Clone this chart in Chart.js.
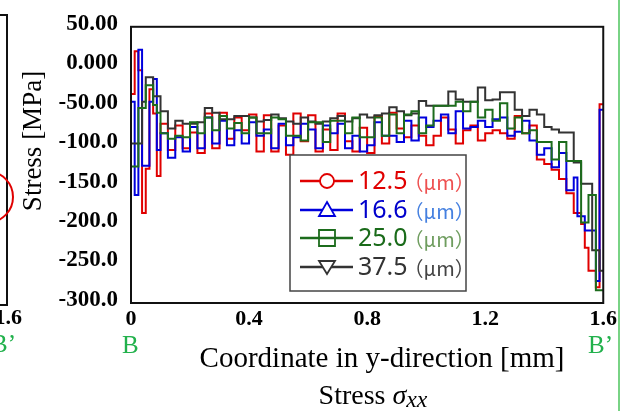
<!DOCTYPE html>
<html>
<head>
<meta charset="utf-8">
<script src="https://cdn.jsdelivr.net/npm/chart.js@4.4.1/dist/chart.umd.min.js"></script>
<style>
  html, body { margin: 0; padding: 0; background: #fff; }
  #wrap { position: relative; width: 620px; height: 411px; overflow: hidden; }
  #c { position: absolute; left: 0; top: 0; }
  .t { position: absolute; white-space: nowrap; font-family: 'Liberation Serif', 'Times New Roman', serif; line-height: 1; }
  .green { color: #22b14c; font-size: 25px; }
</style>
</head>
<body>
<div id="wrap">
  <canvas id="c" width="620" height="411"></canvas>

  <!-- fragment of the neighbouring panel on the left -->
  <svg width="620" height="411" style="position:absolute;left:0;top:0;pointer-events:none">
    <polyline points="0,15 7,15 7,305 0,305" fill="none" stroke="#111" stroke-width="2"/>
    <path d="M -10 172 A 24 25 0 0 1 -10 222" fill="none" stroke="#e00000" stroke-width="2" transform="translate(-1,0)"/>
    <line x1="619" y1="0" x2="619" y2="411" stroke="#4cc45c" stroke-width="1.5"/>
  </svg>
  <div class="t" style="right:598px;top:306px;font-size:22px;font-weight:bold">1.6</div>
  <div class="t green" style="left:-9px;top:331px">B’</div>

  <div class="t" style="left:32px;top:141px;font-size:27px;transform:translate(-50%,-50%) rotate(-90deg)">Stress [MPa]</div>
  <div class="t green" style="left:122px;top:332px">B</div>
  <div class="t green" style="left:588px;top:332px">B’</div>
  <div class="t" style="left:382px;top:343px;font-size:29px;transform:translateX(-50%)">Coordinate in y-direction [mm]</div>
  <div class="t" style="left:373px;top:381px;font-size:28px;transform:translateX(-50%)">Stress <i>σ<span style="font-size:0.85em;position:relative;top:3px">xx</span></i></div>
</div>
<script>
// y-coordinate [mm] of each step start
const X = [0, 0.0125, 0.025, 0.0375, 0.05, 0.0625, 0.075, 0.0875, 0.1,
  0.125, 0.15, 0.175, 0.2, 0.225, 0.25, 0.275, 0.3, 0.325, 0.35, 0.375,
  0.4, 0.425, 0.45, 0.475, 0.5, 0.525, 0.55, 0.575, 0.6, 0.625, 0.65, 0.675,
  0.7, 0.725, 0.75, 0.775, 0.8, 0.825, 0.85, 0.875, 0.9, 0.925, 0.95, 0.975,
  1.0, 1.025, 1.05, 1.075, 1.1, 1.125, 1.15, 1.175, 1.2, 1.225, 1.25, 1.275,
  1.3, 1.325, 1.35, 1.375, 1.4, 1.425, 1.45, 1.475, 1.5,
  1.5125, 1.525, 1.5375, 1.55, 1.5625, 1.575, 1.5875, 1.6];

// stress [MPa] per mesh size
const S_12_5 = [-35, 19, -5, -186, -130, -29, -60, -139, -73,
  -106, -75, -104, -84, -110, -60, -104, -59, -92, -65, -81,
  -61, -108, -62, -108, -75, -112, -60, -95, -62, -108, -80, -106,
  -60, -95, -108, -78, -110, -63, -98, -59, -79, -90, -75, -88,
  -100, -88, -65, -80, -98, -81, -75, -94, -85, -81, -85, -92,
  -63, -85, -75, -118, -124, -131, -143, -161, -186,
  -186, -200, -230, -259, -259, -280, -48, -48];

const S_16_6 = [-45, -163, 21, -126, -126, -45, -16, -106, -85,
  -116, -90, -108, -77, -104, -65, -98, -69, -100, -81, -98,
  -71, -88, -80, -104, -73, -100, -90, -73, -80, -104, -75, -85,
  -73, -104, -88, -108, -100, -71, -88, -88, -96, -69, -94, -65,
  -77, -69, -61, -85, -57, -79, -77, -69, -77, -67, -65, -88,
  -83, -69, -94, -112, -104, -128, -110, -157, -141,
  -190, -190, -208, -208, -208, -272, -55, -55];

const S_25_0 = [-127, -127, -53, -53, -24, -24, -49, -59, -85,
  -92, -88, -90, -71, -85, -65, -81, -63, -79, -72, -85,
  -65, -85, -85, -65, -67, -88, -88, -94, -71, -71, -96, -69,
  -69, -85, -65, -90, -90, -65, -88, -61, -85, -61, -57, -85,
  -75, -50, -50, -50, -45, -57, -45, -65, -55, -69, -47, -79,
  -65, -85, -81, -96, -96, -118, -96, -120, -120,
  -120, -198, -198, -163, -163, -284, -284, -284];

const S_37_5 = [-98, -98, -98, -45, -14, -14, -38, -38, -57,
  -79, -69, -73, -73, -71, -53, -59, -67, -67, -63, -63,
  -65, -70, -68, -61, -66, -70, -73, -65, -70, -73, -70, -66,
  -63, -70, -66, -61, -65, -62, -60, -52, -57, -62, -60, -44,
  -50, -50, -50, -32, -42, -45, -45, -27, -43, -42, -33, -33,
  -55, -63, -55, -61, -77, -80, -84, -84, -122,
  -122, -149, -149, -149, -233, -233, -259, -259];

const SERIES_LABELS = ['12.5', '16.6', '25.0', '37.5'];
const UNIT = '（μm）';

const X_TICKS = [0, 0.4, 0.8, 1.2, 1.6];
const X_TICK_LABELS = ['0', '0.4', '0.8', '1.2', '1.6'];
const Y_TICKS = [50, 0, -50, -100, -150, -200, -250, -300];
const Y_TICK_LABELS = ['50.00', '0.000', '-50.00', '-100.0', '-150.0', '-200.0', '-250.0', '-300.0'];

const LINE_COLORS = ['#e00000', '#0000dd', '#1c6c1c', '#333333'];
const TEXT_COLORS = ['#e00000', '#0000cc', '#1a6b1a', '#333333'];
const UNIT_COLORS = ['#ee5050', '#4580e0', '#6f9d5f', '#444444'];
const MARKERS = ['circle', 'triangle', 'square', 'triangleDown'];

const serif = "'Liberation Serif', 'Times New Roman', serif";

function pickLabel(values, labels, v) {
    const i = values.findIndex(t => Math.abs(t - v) < 1e-6);
    return i >= 0 ? labels[i] : '';
}

function drawMarker(ctx, kind, x, y, color) {
    ctx.save();
    ctx.strokeStyle = color;
    ctx.lineWidth = 1.8;
    ctx.fillStyle = '#fff';
    ctx.beginPath();
    if (kind === 'circle') {
        ctx.arc(x, y, 7, 0, Math.PI * 2);
        ctx.fill();
    } else if (kind === 'triangle') {
        ctx.moveTo(x, y - 8); ctx.lineTo(x + 8, y + 6); ctx.lineTo(x - 8, y + 6); ctx.closePath();
        ctx.fill();
    } else if (kind === 'triangleDown') {
        ctx.moveTo(x - 8, y - 6); ctx.lineTo(x + 8, y - 6); ctx.lineTo(x, y + 7); ctx.closePath();
        ctx.fill();
    } else {
        ctx.rect(x - 8, y - 8, 16, 16);
    }
    ctx.stroke();
    ctx.restore();
}

// frame round the plot area and the boxed legend
const framePlugin = {
    id: 'frameAndLegend',
    afterDatasetsDraw(chart) {
        const { ctx, chartArea: a } = chart;
        ctx.save();
        ctx.strokeStyle = '#111';
        ctx.lineWidth = 2;
        ctx.strokeRect(a.left, a.top, a.right - a.left, a.bottom - a.top);

        const bx = 290, by = 155, bw = 176, bh = 136;
        ctx.fillStyle = '#fff';
        ctx.fillRect(bx, by, bw, bh);
        ctx.strokeStyle = '#444';
        ctx.lineWidth = 1.5;
        ctx.strokeRect(bx, by, bw, bh);

        const rows = [181, 210, 238, 267];
        chart.data.datasets.forEach((ds, i) => {
            const y = rows[i];
            ctx.strokeStyle = LINE_COLORS[i];
            ctx.lineWidth = 2.5;
            ctx.beginPath();
            ctx.moveTo(300, y); ctx.lineTo(353, y);
            ctx.stroke();
            drawMarker(ctx, MARKERS[i], 327, y, LINE_COLORS[i]);

            ctx.textBaseline = 'middle';
            ctx.textAlign = 'left';
            ctx.font = "25px 'Noto Sans', 'Liberation Sans', sans-serif";
            ctx.fillStyle = TEXT_COLORS[i];
            ctx.fillText(ds.label, 358, y + 1);
            const w = ctx.measureText(ds.label).width;
            ctx.font = "20px 'Noto Sans CJK JP', sans-serif";
            ctx.fillStyle = UNIT_COLORS[i];
            ctx.fillText(UNIT, 358 + w - 4, y + 1);
        });
        ctx.restore();
    }
};

const series = [S_12_5, S_16_6, S_25_0, S_37_5];
const drawOrder = [4, 3, 1, 2];

new Chart(document.getElementById('c'), {
    type: 'line',
    data: {
        datasets: series.map((s, i) => ({
            label: SERIES_LABELS[i],
            data: X.map((x, k) => ({ x, y: s[k] })),
            stepped: true,
            borderColor: LINE_COLORS[i],
            borderWidth: 2,
            pointRadius: 0,
            fill: false,
            order: drawOrder[i]
        }))
    },
    options: {
        responsive: false,
        devicePixelRatio: 1,
        animation: false,
        layout: { padding: { left: 0, top: 18, right: 15, bottom: 0 } },
        plugins: { legend: { display: false }, tooltip: { enabled: false } },
        scales: {
            x: {
                type: 'linear',
                min: 0, max: 1.6,
                afterFit: s => { s.height = 108; },
                grid: { display: false, drawTicks: false },
                border: { display: false },
                ticks: {
                    stepSize: 0.4,
                    padding: 3,
                    maxRotation: 0,
                    color: '#000',
                    font: { family: serif, size: 22, weight: 'bold' },
                    callback: v => pickLabel(X_TICKS, X_TICK_LABELS, v)
                }
            },
            y: {
                min: -300, max: 50,
                afterFit: s => { s.width = 131; },
                grid: { display: false, drawTicks: false },
                border: { display: false },
                ticks: {
                    stepSize: 50,
                    padding: 13,
                    labelOffset: -3,
                    color: '#000',
                    font: { family: serif, size: 23, weight: 'bold' },
                    callback: v => pickLabel(Y_TICKS, Y_TICK_LABELS, v)
                }
            }
        }
    },
    plugins: [framePlugin]
});
</script>
</body>
</html>
